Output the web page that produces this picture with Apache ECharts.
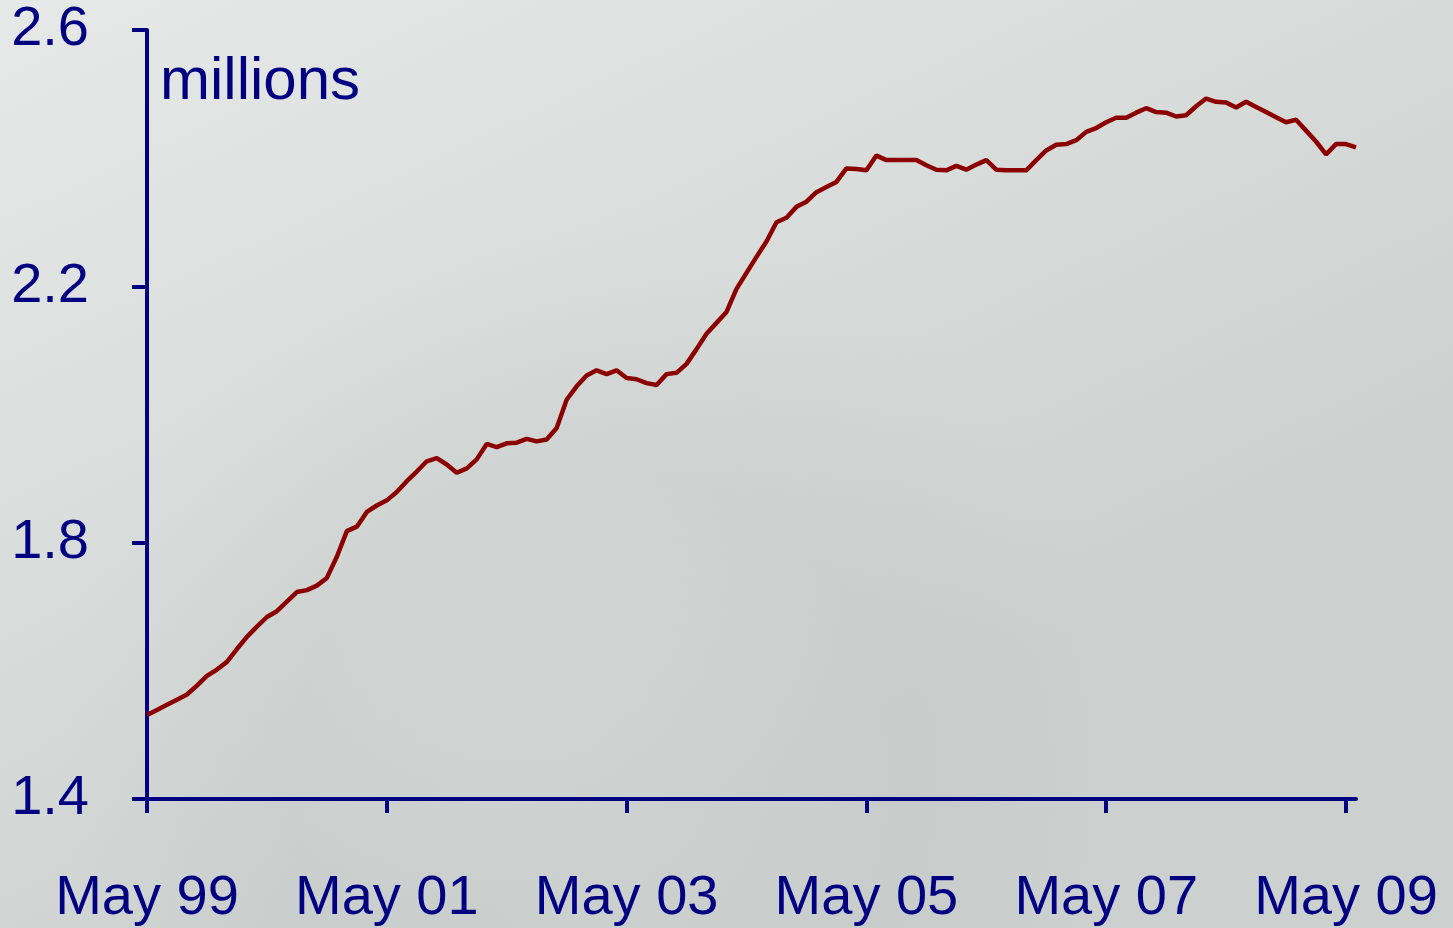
<!DOCTYPE html>
<html>
<head>
<meta charset="utf-8">
<script src="https://cdn.jsdelivr.net/npm/echarts@6/dist/echarts.min.js"></script>
<style>
    html, body { margin: 0; padding: 0; }
    #chart { width: 1453px; height: 928px; }
</style>
</head>
<body>
<div id="chart"></div>
<script>
// monthly series, May 1999 .. Jun 2009 (millions)
const monthNames = ['Jan', 'Feb', 'Mar', 'Apr', 'May', 'Jun', 'Jul', 'Aug', 'Sep', 'Oct', 'Nov', 'Dec']
const startYear = 1999
const startMonth = 4
const monthCount = 122

const values = [
    1.531, 1.539, 1.547, 1.555, 1.563, 1.577, 1.592, 1.602, 1.614, 1.634, 1.653, 1.669,
    1.684, 1.693, 1.708, 1.723, 1.726, 1.733, 1.745, 1.778, 1.818, 1.825, 1.848, 1.858,
    1.866, 1.879, 1.896, 1.911, 1.927, 1.932, 1.922, 1.909, 1.916, 1.930, 1.954, 1.949,
    1.955, 1.956, 1.962, 1.958, 1.961, 1.979, 2.023, 2.044, 2.061, 2.069, 2.063, 2.069,
    2.057, 2.055, 2.049, 2.046, 2.063, 2.065, 2.079, 2.102, 2.126, 2.143, 2.160, 2.196,
    2.221, 2.246, 2.270, 2.300, 2.307, 2.324, 2.332, 2.347, 2.355, 2.363, 2.384, 2.383,
    2.381, 2.404, 2.397, 2.397, 2.397, 2.397, 2.389, 2.382, 2.381, 2.388, 2.382, 2.390,
    2.397, 2.382, 2.381, 2.381, 2.381, 2.397, 2.412, 2.421, 2.422, 2.428, 2.441, 2.447,
    2.456, 2.463, 2.463, 2.471, 2.478, 2.472, 2.471, 2.465, 2.467, 2.481, 2.493, 2.488,
    2.487, 2.479, 2.488, 2.480, 2.472, 2.464, 2.456, 2.460, 2.443, 2.426, 2.406, 2.422,
    2.422, 2.417
]

const yTicks = { min: 1.4, max: 2.6, step: 0.4 }
const labelEvery = 24

const categories = []
for (let i = 0; i < monthCount; i++) {
    const m = (startMonth + i) % 12
    const y = startYear + Math.floor((startMonth + i) / 12)
    categories.push(monthNames[m] + ' ' + String(y % 100).padStart(2, '0'))
}

const navy = '#000080'
const font = '"Liberation Sans", Arial, sans-serif'

const chart = echarts.init(document.getElementById('chart'))
const showEvery = (idx) => idx % labelEvery === 0

chart.setOption({
    backgroundColor: {
        type: 'linear', x: 0, y: 0, x2: 0.3, y2: 1,
        colorStops: [
            { offset: 0, color: '#e6e9e8' },
            { offset: 0.5, color: '#d9dddc' },
            { offset: 1, color: '#ccd1d0' }
        ]
    },
    animation: false,
    grid: { left: 147, right: 97, top: 30, bottom: 129 },
    graphic: [
        {
            type: 'circle', z: -10, silent: true,
            shape: { cx: 600, cy: 780, r: 560 },
            style: {
                fill: {
                    type: 'radial', x: 0.5, y: 0.5, r: 0.5,
                    colorStops: [
                        { offset: 0, color: 'rgba(200,205,204,0.0)' },
                        { offset: 0.55, color: 'rgba(180,186,185,0.18)' },
                        { offset: 0.75, color: 'rgba(180,186,185,0.1)' },
                        { offset: 1, color: 'rgba(200,205,204,0)' }
                    ]
                }
            }
        },
        {
            type: 'text', left: 160, top: 52, z: 10,
            style: { text: 'millions', fill: navy, font: '60px ' + font }
        }
    ],
    xAxis: {
        type: 'category',
        data: categories,
        boundaryGap: false,
        axisLine: { lineStyle: { color: navy, width: 4 } },
        axisTick: { interval: (i) => showEvery(i), length: 14, lineStyle: { color: navy, width: 4 } },
        axisLabel: {
            interval: (i) => showEvery(i),
            color: navy, fontSize: 56, fontFamily: font, margin: 72
        },
        splitLine: { show: false }
    },
    yAxis: {
        type: 'value',
        min: yTicks.min, max: yTicks.max, interval: yTicks.step,
        axisLine: { show: true, lineStyle: { color: navy, width: 4 } },
        axisTick: { show: true, length: 15, lineStyle: { color: navy, width: 4 } },
        axisLabel: {
            color: navy, fontSize: 56, fontFamily: font, margin: 58,
            formatter: (v) => v.toFixed(1)
        },
        splitLine: { show: false }
    },
    series: [{
        type: 'line',
        data: values,
        showSymbol: false,
        lineStyle: { color: '#8b0000', width: 4.5 },
        z: 3
    }]
})
</script>
</body>
</html>
